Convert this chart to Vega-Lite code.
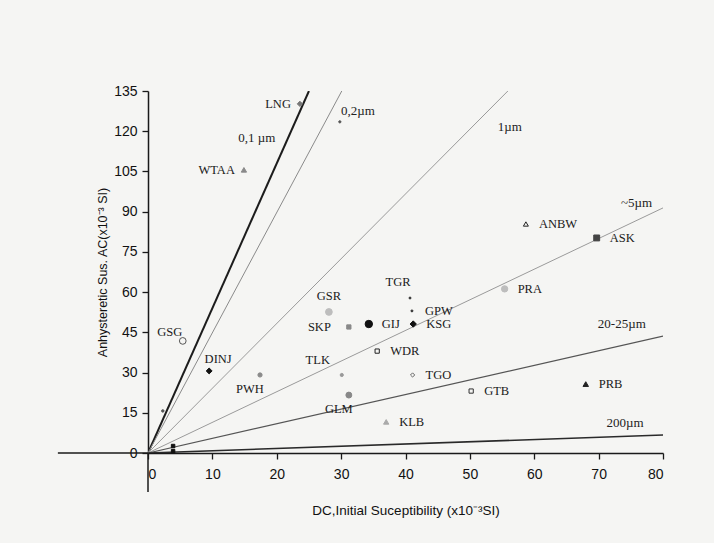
{
  "$schema": "https://vega.github.io/schema/vega-lite/v6.json",
  "width": 515,
  "height": 362,
  "autosize": "none",
  "padding": {"left": 148, "top": 91, "right": 51, "bottom": 90},
  "background": "#f5f5f3",
  "config": {
    "view": {"stroke": null},
    "axis": {"domainColor": "#1a1a1a", "domainWidth": 1.5, "tickColor": "#1a1a1a", "tickWidth": 1.3, "tickSize": 6, "grid": false, "labelFont": "Liberation Sans", "labelFontSize": 14, "labelColor": "#111", "titleFont": "Liberation Sans", "titleFontWeight": "normal", "titleColor": "#111"}
  },
  "datasets": {
    "samples": [
      {"site": "LNG", "dc": 23.6, "ac": 130.2},
      {"site": "p02", "dc": 29.8, "ac": 123.5},
      {"site": "WTAA", "dc": 14.9, "ac": 105.6},
      {"site": "GSG", "dc": 5.4, "ac": 41.8},
      {"site": "DINJ", "dc": 9.5, "ac": 30.6},
      {"site": "PWH", "dc": 17.4, "ac": 29.1},
      {"site": "GSR", "dc": 28.1, "ac": 52.6},
      {"site": "SKP", "dc": 31.2, "ac": 47.0},
      {"site": "GIJ", "dc": 34.3, "ac": 48.1},
      {"site": "TLK", "dc": 30.1, "ac": 29.1},
      {"site": "GLM", "dc": 31.2, "ac": 21.6},
      {"site": "WDR", "dc": 35.6, "ac": 38.0},
      {"site": "KLB", "dc": 37.0, "ac": 11.6},
      {"site": "TGR", "dc": 40.7, "ac": 57.8},
      {"site": "GPW", "dc": 41.0, "ac": 53.0},
      {"site": "KSG", "dc": 41.2, "ac": 48.1},
      {"site": "TGO", "dc": 41.1, "ac": 29.1},
      {"site": "GTB", "dc": 50.2, "ac": 23.1},
      {"site": "PRA", "dc": 55.4, "ac": 61.2},
      {"site": "PRB", "dc": 68.0, "ac": 25.7},
      {"site": "ANBW", "dc": 58.7, "ac": 85.4},
      {"site": "ASK", "dc": 69.7, "ac": 80.2},
      {"site": "m1", "dc": 3.9, "ac": 2.6},
      {"site": "m2", "dc": 3.9, "ac": 0.7},
      {"site": "m3", "dc": 2.3, "ac": 15.7}
    ],
    "lines": [
      {"grain": "0.1", "dc": 0, "ac": 0}, {"grain": "0.1", "dc": 25.0, "ac": 135},
      {"grain": "0.2", "dc": 0, "ac": 0}, {"grain": "0.2", "dc": 30.1, "ac": 135},
      {"grain": "1", "dc": 0, "ac": 0}, {"grain": "1", "dc": 55.9, "ac": 135},
      {"grain": "5", "dc": 0, "ac": 0}, {"grain": "5", "dc": 80, "ac": 91.4},
      {"grain": "20-25", "dc": 0, "ac": 0}, {"grain": "20-25", "dc": 80, "ac": 43.6},
      {"grain": "200", "dc": 0, "ac": 0}, {"grain": "200", "dc": 80, "ac": 6.7}
    ],
    "lineLabels": [
      {"text": "0,1 µm", "dc": 16.9, "ac": 117.5},
      {"text": "0,2µm", "dc": 32.6, "ac": 127.6},
      {"text": "1µm", "dc": 56.2, "ac": 121.6},
      {"text": "~5µm", "dc": 75.9, "ac": 93.3},
      {"text": "20-25µm", "dc": 73.6, "ac": 48.1},
      {"text": "200µm", "dc": 74.1, "ac": 11.2}
    ],
    "axisExt": [
      {"dc": -14, "dc2": 0, "ac": 0, "ac2": 0},
      {"dc": 0, "dc2": 0, "ac": -14.5, "ac2": 0}
    ]
  },
  "encoding": {
    "x": {"field": "dc", "type": "quantitative", "scale": {"domain": [0, 80], "nice": false},
      "axis": {"values": [0,10,20,30,40,50,60,70,80], "title": "DC,Initial Suceptibility  (x10⁻³SI)", "titleFontSize": 13.5, "titlePadding": 22, "labelPadding": 8}},
    "y": {"field": "ac", "type": "quantitative", "scale": {"domain": [0, 135], "nice": false},
      "axis": {"values": [0,15,30,45,60,75,90,105,120,135], "title": "Anhysteretic Sus. AC(x10⁻³ SI)", "titleFontSize": 12.5, "titlePadding": 4, "labelPadding": 5}}
  },
  "layer": [
    {
      "data": {"name": "axisExt"},
      "mark": {"type": "rule", "color": "#1a1a1a", "strokeWidth": 1.5},
      "encoding": {"x2": {"field": "dc2"}, "y2": {"field": "ac2"}}
    },
    {
      "data": {"name": "lines"},
      "mark": {"type": "line", "clip": true},
      "encoding": {
        "detail": {"field": "grain"},
        "color": {"field": "grain", "type": "nominal", "legend": null,
          "scale": {"domain": ["0.1","0.2","1","5","20-25","200"], "range": ["#1c1c1c","#8a8a8a","#9a9a9a","#9a9a9a","#555555","#2a2a2a"]}},
        "strokeWidth": {"field": "grain", "type": "nominal", "legend": null,
          "scale": {"type": "ordinal", "domain": ["0.1","0.2","1","5","20-25","200"], "range": [2, 1, 1, 1, 1.2, 1.6]}}
      }
    },
    {
      "data": {"name": "lineLabels"},
      "mark": {"type": "text", "font": "Liberation Serif", "fontSize": 13, "color": "#222"},
      "encoding": {"text": {"field": "text"}}
    },
    {
      "data": {"name": "samples"},
      "mark": {"type": "point", "opacity": 1, "strokeWidth": 1},
      "encoding": {
        "shape": {"field": "site", "type": "nominal", "legend": null,
          "scale": {"domain": ["LNG","p02","WTAA","GSG","DINJ","PWH","GSR","SKP","GIJ","TLK","GLM","WDR","KLB","TGR","GPW","KSG","TGO","GTB","PRA","PRB","ANBW","ASK","m1","m2","m3"],
            "range": ["diamond","circle","triangle-up","circle","diamond","circle","circle","square","circle","circle","circle","square","triangle-up","circle","circle","diamond","diamond","square","circle","triangle-up","triangle-up","square","square","square","circle"]}},
        "fill": {"field": "site", "type": "nominal", "legend": null,
          "scale": {"domain": ["LNG","p02","WTAA","GSG","DINJ","PWH","GSR","SKP","GIJ","TLK","GLM","WDR","KLB","TGR","GPW","KSG","TGO","GTB","PRA","PRB","ANBW","ASK","m1","m2","m3"],
            "range": ["#777777","#555555","#8a8a8a","transparent","#111111","#8a8a8a","#bdbdbd","#888888","#111111","#999999","#888888","transparent","#aaaaaa","#333333","#333333","#111111","transparent","transparent","#bdbdbd","#222222","transparent","#444444","#111111","#111111","#555555"]}},
        "stroke": {"field": "site", "type": "nominal", "legend": null,
          "scale": {"domain": ["LNG","p02","WTAA","GSG","DINJ","PWH","GSR","SKP","GIJ","TLK","GLM","WDR","KLB","TGR","GPW","KSG","TGO","GTB","PRA","PRB","ANBW","ASK","m1","m2","m3"],
            "range": ["#777777","#555555","#8a8a8a","#555555","#111111","#8a8a8a","#bdbdbd","#888888","#111111","#999999","#888888","#222222","#aaaaaa","#333333","#333333","#111111","#666666","#333333","#bdbdbd","#222222","#222222","#444444","#111111","#111111","#555555"]}},
        "size": {"field": "site", "type": "nominal", "legend": null,
          "scale": {"type": "ordinal", "domain": ["LNG","p02","WTAA","GSG","DINJ","PWH","GSR","SKP","GIJ","TLK","GLM","WDR","KLB","TGR","GPW","KSG","TGO","GTB","PRA","PRB","ANBW","ASK","m1","m2","m3"],
            "range": [28, 5, 28, 45, 35, 18, 45, 18, 55, 10, 35, 18, 28, 4, 4, 40, 18, 18, 40, 30, 25, 35, 12, 12, 6]}}
      }
    },
    {
      "data": {"name": "samples"},
      "transform": [{"filter": {"field": "site", "oneOf": ["GIJ","WDR","KLB","GPW","KSG","TGO","GTB","PRA","PRB","ANBW","ASK"]}}],
      "mark": {"type": "text", "align": "left", "dx": 13, "font": "Liberation Serif", "fontSize": 12.5, "color": "#1a1a1a"},
      "encoding": {"text": {"field": "site"}}
    },
    {
      "data": {"name": "samples"},
      "transform": [{"filter": {"field": "site", "oneOf": ["LNG","WTAA"]}}],
      "mark": {"type": "text", "align": "right", "dx": -9, "font": "Liberation Serif", "fontSize": 12.5, "color": "#1a1a1a"},
      "encoding": {"text": {"field": "site"}}
    },
    {
      "data": {"name": "samples"},
      "transform": [{"filter": {"field": "site", "oneOf": ["SKP"]}}],
      "mark": {"type": "text", "align": "right", "dx": -18, "font": "Liberation Serif", "fontSize": 12.5, "color": "#1a1a1a"},
      "encoding": {"text": {"field": "site"}}
    },
    {
      "data": {"name": "samples"},
      "transform": [{"filter": {"field": "site", "oneOf": ["GSR"]}}],
      "mark": {"type": "text", "dy": -16, "font": "Liberation Serif", "fontSize": 12.5, "color": "#1a1a1a"},
      "encoding": {"text": {"field": "site"}}
    },
    {
      "data": {"name": "samples"},
      "transform": [{"filter": {"field": "site", "oneOf": ["TGR"]}}],
      "mark": {"type": "text", "dx": -12, "dy": -16, "font": "Liberation Serif", "fontSize": 12.5, "color": "#1a1a1a"},
      "encoding": {"text": {"field": "site"}}
    },
    {
      "data": {"name": "samples"},
      "transform": [{"filter": {"field": "site", "oneOf": ["DINJ"]}}],
      "mark": {"type": "text", "dx": 9, "dy": -12, "font": "Liberation Serif", "fontSize": 12.5, "color": "#1a1a1a"},
      "encoding": {"text": {"field": "site"}}
    },
    {
      "data": {"name": "samples"},
      "transform": [{"filter": {"field": "site", "oneOf": ["GSG"]}}],
      "mark": {"type": "text", "dx": -13, "dy": -9, "font": "Liberation Serif", "fontSize": 12.5, "color": "#1a1a1a"},
      "encoding": {"text": {"field": "site"}}
    },
    {
      "data": {"name": "samples"},
      "transform": [{"filter": {"field": "site", "oneOf": ["TLK"]}}],
      "mark": {"type": "text", "dx": -24, "dy": -15, "font": "Liberation Serif", "fontSize": 12.5, "color": "#1a1a1a"},
      "encoding": {"text": {"field": "site"}}
    },
    {
      "data": {"name": "samples"},
      "transform": [{"filter": {"field": "site", "oneOf": ["PWH","GLM"]}}],
      "mark": {"type": "text", "dx": -10, "dy": 14, "font": "Liberation Serif", "fontSize": 12.5, "color": "#1a1a1a"},
      "encoding": {"text": {"field": "site"}}
    }
  ]
}
